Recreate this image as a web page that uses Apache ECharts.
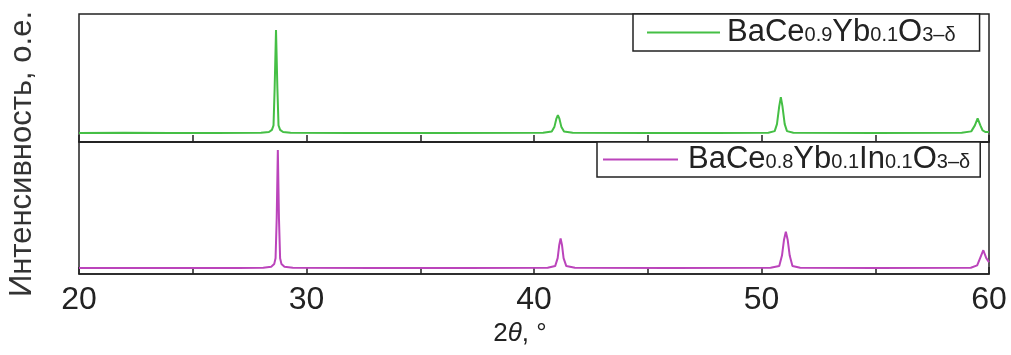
<!DOCTYPE html>
<html>
<head>
<meta charset="utf-8">
<script src="https://cdn.jsdelivr.net/npm/echarts@6/dist/echarts.min.js"></script>
<style>
html,body{margin:0;padding:0;background:#fff;}
#chart{width:1011px;height:355px;}
</style>
</head>
<body>
<div id="chart"></div>
<script>
// ---- data ----
const xTicks = [20, 30, 40, 50, 60];
const seriesNames = ['BaCe0.9Yb0.1O3−δ', 'BaCe0.8Yb0.1In0.1O3−δ'];

const topTheta = [20, 22, 24, 26, 28.0, 28.35, 28.48, 28.55, 28.6, 28.66, 28.72, 28.77, 28.84, 28.97, 29.3, 32, 36,
  40.4, 40.78, 40.9, 40.98, 41.05, 41.12, 41.2, 41.32, 41.7, 45, 48,
  50.3, 50.58, 50.68, 50.78, 50.85, 50.92, 51.02, 51.12, 51.4, 55,
  58.8, 59.22, 59.38, 59.5, 59.62, 59.72, 59.85, 60];
const topCounts = [7, 7.2, 7, 7.1, 7.3, 7.8, 9.5, 13, 42, 87.5, 42, 13, 9.5, 7.8, 7.2, 7, 7.1,
  7.2, 8.2, 12, 18, 21, 18, 12, 8.2, 7.2, 7, 7.1,
  7.3, 8.5, 14, 28, 35, 28, 14, 8.5, 7.3, 7,
  7.2, 8.3, 13, 18.5, 13, 9, 7.8, 7.8];

const bottomTheta = [20, 24, 27, 28.1, 28.45, 28.58, 28.64, 28.69, 28.74, 28.79, 28.84, 28.9, 29.03, 29.4, 33, 37,
  40.6, 40.93, 41.04, 41.11, 41.17, 41.23, 41.3, 41.42, 41.8, 46,
  50.4, 50.78, 50.9, 50.99, 51.07, 51.15, 51.24, 51.36, 51.7, 55,
  59.2, 59.48, 59.61, 59.75, 59.88, 60];
const bottomCounts = [4.5, 4.6, 4.5, 4.8, 5.5, 7.5, 12, 42, 94, 42, 12, 7.5, 5.5, 4.8, 4.5, 4.6,
  4.7, 6, 12, 22, 27, 22, 12, 6, 4.7, 4.5,
  4.7, 6, 14, 26, 32, 26, 14, 6, 4.7, 4.5,
  4.7, 6.5, 12, 18, 12, 9];

const zip = (a, b) => a.map((v, i) => [v, b[i]]);

const FONT = "'Liberation Sans', Arial, sans-serif";

function legendRich(name) {
  const parts = name === seriesNames[0]
    ? ['{n|BaCe}', '{s|0.9}', '{n|Yb}', '{s|0.1}', '{n|O}', '{s|3–δ}']
    : ['{n|BaCe}', '{s|0.8}', '{n|Yb}', '{s|0.1}', '{n|In}', '{s|0.1}', '{n|O}', '{s|3–δ}'];
  return parts.join('');
}
const richStyle = {
  n: {fontSize: 31, fontFamily: FONT, color: '#222', lineHeight: 31, verticalAlign: 'bottom'},
  s: {fontSize: 20, fontFamily: FONT, color: '#222', lineHeight: 20, verticalAlign: 'bottom', padding: [0, 0, 3, 0]}
};

const axisCommon = {
  type: 'value', min: 20, max: 60, interval: 5,
  axisLine: {show: true, lineStyle: {color: '#222', width: 1.5}},
  axisTick: {show: true, inside: true, length: 7, lineStyle: {color: '#222', width: 1.5}},
  splitLine: {show: false}
};

const chart = echarts.init(document.getElementById('chart'), null, {renderer: 'canvas'});
chart.setOption({
  animation: false,
  backgroundColor: '#fff',
  grid: [
    {left: 79, right: 22, top: 14, height: 128, show: true, borderColor: '#222', borderWidth: 1.5, backgroundColor: 'transparent'},
    {left: 79, right: 22, top: 142, height: 132, show: true, borderColor: '#222', borderWidth: 1.5, backgroundColor: 'transparent'}
  ],
  xAxis: [
    Object.assign({}, axisCommon, {gridIndex: 0, axisLabel: {show: false}}),
    Object.assign({}, axisCommon, {
      gridIndex: 1,
      axisLabel: {
        show: true, fontSize: 32, fontFamily: FONT, color: '#222', margin: 10,
        formatter: v => (xTicks.indexOf(v) >= 0 ? String(v) : '')
      },
      name: '2{i|θ}, °',
      nameLocation: 'middle',
      nameGap: 47,
      nameTextStyle: {
        fontSize: 26, fontFamily: FONT, color: '#222', padding: [0, 28, 0, 0],
        rich: {i: {fontSize: 26, fontFamily: FONT, fontStyle: 'italic', color: '#222'}}
      }
    })
  ],
  yAxis: [
    {type: 'value', gridIndex: 0, min: 0, max: 100, show: false},
    {type: 'value', gridIndex: 1, min: 0, max: 100, show: false}
  ],
  legend: [
    {
      data: [seriesNames[0]], left: 633, top: 14, orient: 'horizontal',
      icon: 'rect', itemWidth: 73, itemHeight: 2,
      padding: [3, 24, 3, 14],
      borderColor: '#222', borderWidth: 1.5, backgroundColor: '#fff', borderRadius: 0,
      formatter: legendRich,
      textStyle: {rich: richStyle, padding: [0, 0, 0, 2]}
    },
    {
      data: [seriesNames[1]], left: 597, top: 142, orient: 'horizontal',
      icon: 'rect', itemWidth: 75, itemHeight: 2,
      padding: [2, 10, 2, 6],
      borderColor: '#222', borderWidth: 1.5, backgroundColor: '#fff', borderRadius: 0,
      formatter: legendRich,
      textStyle: {rich: richStyle, padding: [0, 0, 0, 5]}
    }
  ],
  graphic: [
    {
      type: 'text', left: 7, top: 11, rotation: Math.PI / 2,
      style: {text: 'Интенсивность, о.е.', fontSize: 31, fontFamily: FONT, fill: '#333'}
    }
  ],
  series: [
    {
      name: seriesNames[0], type: 'line', xAxisIndex: 0, yAxisIndex: 0,
      data: zip(topTheta, topCounts), symbol: 'none', smooth: false,
      lineStyle: {color: '#45bf45', width: 2}, itemStyle: {color: '#45bf45'}
    },
    {
      name: seriesNames[1], type: 'line', xAxisIndex: 1, yAxisIndex: 1,
      data: zip(bottomTheta, bottomCounts), symbol: 'none', smooth: false,
      lineStyle: {color: '#bb44bb', width: 2}, itemStyle: {color: '#bb44bb'}
    }
  ]
});
</script>
</body>
</html>
